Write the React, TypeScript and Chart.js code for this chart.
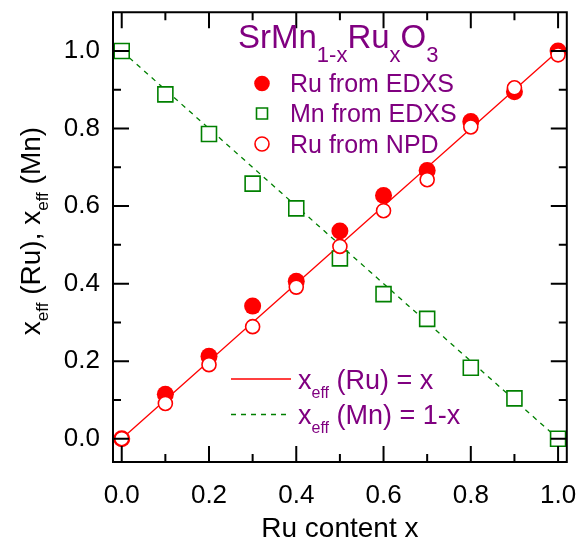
import React, { useEffect, useRef } from 'react';
import { Chart, registerables } from 'chart.js';

Chart.register(...registerables);

// ---------- data ----------
const xContent = [0, 0.1, 0.2, 0.3, 0.4, 0.5, 0.6, 0.7, 0.8, 0.9, 1.0];
const ruFromEdxs = [0.0, 0.115, 0.213, 0.342, 0.406, 0.536, 0.627, 0.692, 0.818, 0.895, 1.0];
const mnFromEdxs = [1.0, 0.888, 0.786, 0.658, 0.594, 0.465, 0.373, 0.309, 0.183, 0.104, 0.0];
const ruFromNpd = [0.0, 0.091, 0.191, 0.289, 0.391, 0.496, 0.588, 0.668, 0.804, 0.905, 0.99];

const lineX = [0, 1];
const ruLineY = [0, 1];
const mnLineY = [1, 0];

const xTickValues = [0, 0.2, 0.4, 0.6, 0.8, 1.0];
const xTickLabels = ['0.0', '0.2', '0.4', '0.6', '0.8', '1.0'];
const yTickValues = [0, 0.2, 0.4, 0.6, 0.8, 1.0];
const yTickLabels = ['0.0', '0.2', '0.4', '0.6', '0.8', '1.0'];
const minorTickValues = [0.1, 0.3, 0.5, 0.7, 0.9];

const seriesLabels = ['Ru from EDXS', 'Mn from EDXS', 'Ru from NPD'];
const xAxisTitle = 'Ru content x';

const RED = '#ff0000';
const GREEN = '#008000';
const PURPLE = '#800080';
const FONT = "'Liberation Sans', Arial, sans-serif";

type Part = { t: string; size: number; dy: number };

function measureParts(ctx: CanvasRenderingContext2D, parts: Part[]) {
  let w = 0;
  for (const p of parts) {
    ctx.font = `${p.size}px ${FONT}`;
    w += ctx.measureText(p.t).width;
  }
  return w;
}

function drawParts(ctx: CanvasRenderingContext2D, x: number, y: number, parts: Part[], color: string) {
  ctx.fillStyle = color;
  ctx.textAlign = 'left';
  ctx.textBaseline = 'alphabetic';
  let cx = x;
  for (const p of parts) {
    ctx.font = `${p.size}px ${FONT}`;
    ctx.fillText(p.t, cx, y + p.dy);
    cx += ctx.measureText(p.t).width;
  }
}

const decorPlugin = {
  id: 'decor',
  afterDraw(chart: any) {
    const ctx: CanvasRenderingContext2D = chart.ctx;
    const { left, right, top, bottom } = chart.chartArea;
    const xs = chart.scales.x;
    const ys = chart.scales.y;
    ctx.save();
    ctx.setLineDash([]);
    // frame
    ctx.strokeStyle = '#000';
    ctx.lineWidth = 2;
    ctx.beginPath();
    ctx.moveTo(left, top);
    ctx.lineTo(right, top);
    ctx.lineTo(right, bottom);
    ctx.lineTo(left, bottom);
    ctx.closePath();
    ctx.stroke();
    // inward ticks on all four sides
    const tickSet = [
      ...xTickValues.map((v) => ({ v, len: 16 })),
      ...minorTickValues.map((v) => ({ v, len: 8 })),
    ];
    ctx.beginPath();
    for (const t of tickSet) {
      const px = xs.getPixelForValue(t.v);
      ctx.moveTo(px, bottom);
      ctx.lineTo(px, bottom - t.len);
      ctx.moveTo(px, top);
      ctx.lineTo(px, top + t.len);
      const py = ys.getPixelForValue(t.v);
      ctx.moveTo(left, py);
      ctx.lineTo(left + t.len, py);
      ctx.moveTo(right, py);
      ctx.lineTo(right - t.len, py);
    }
    ctx.stroke();

    // compound title
    drawParts(
      ctx,
      238,
      48,
      [
        { t: 'SrMn', size: 33, dy: 0 },
        { t: '1-x', size: 22, dy: 14 },
        { t: 'Ru', size: 33, dy: 0 },
        { t: 'x', size: 22, dy: 14 },
        { t: 'O', size: 33, dy: 0 },
        { t: '3', size: 22, dy: 14 },
      ],
      PURPLE
    );

    // marker legend
    const mx = 262;
    const rows = [83.5, 113.5, 144];
    ctx.fillStyle = RED;
    ctx.beginPath();
    ctx.arc(mx, rows[0], 7.8, 0, Math.PI * 2);
    ctx.fill();
    ctx.strokeStyle = GREEN;
    ctx.lineWidth = 1.6;
    ctx.fillStyle = '#fff';
    ctx.beginPath();
    ctx.rect(mx - 5.5, rows[1] - 5.5, 11, 11);
    ctx.fill();
    ctx.stroke();
    ctx.strokeStyle = RED;
    ctx.lineWidth = 1.6;
    ctx.beginPath();
    ctx.arc(mx, rows[2], 7, 0, Math.PI * 2);
    ctx.fill();
    ctx.stroke();
    for (let i = 0; i < 3; i++) {
      drawParts(ctx, 290, rows[i] + 8.5, [{ t: seriesLabels[i], size: 25, dy: 0 }], PURPLE);
    }

    // line legend
    ctx.lineWidth = 1.3;
    ctx.strokeStyle = RED;
    ctx.beginPath();
    ctx.moveTo(231, 379);
    ctx.lineTo(291, 379);
    ctx.stroke();
    ctx.strokeStyle = GREEN;
    ctx.setLineDash([5, 5]);
    ctx.beginPath();
    ctx.moveTo(231, 414.5);
    ctx.lineTo(291, 414.5);
    ctx.stroke();
    ctx.setLineDash([]);
    drawParts(
      ctx,
      298,
      389,
      [
        { t: 'x', size: 27, dy: 0 },
        { t: 'eff', size: 16, dy: 9 },
        { t: ' (Ru) = x', size: 27, dy: 0 },
      ],
      PURPLE
    );
    drawParts(
      ctx,
      298,
      424,
      [
        { t: 'x', size: 27, dy: 0 },
        { t: 'eff', size: 16, dy: 9 },
        { t: ' (Mn) = 1-x', size: 27, dy: 0 },
      ],
      PURPLE
    );

    // axis titles
    ctx.fillStyle = '#000';
    ctx.font = `28px ${FONT}`;
    ctx.textAlign = 'center';
    ctx.textBaseline = 'alphabetic';
    ctx.fillText(xAxisTitle, (left + right) / 2, 537);

    const yParts: Part[] = [
      { t: 'x', size: 28, dy: 0 },
      { t: 'eff', size: 17, dy: 8 },
      { t: ' (Ru), x', size: 28, dy: 0 },
      { t: 'eff', size: 17, dy: 8 },
      { t: ' (Mn)', size: 28, dy: 0 },
    ];
    const w = measureParts(ctx, yParts);
    ctx.translate(40, 231);
    ctx.rotate(-Math.PI / 2);
    drawParts(ctx, -w / 2, 0, yParts, '#000');
    ctx.restore();
  },
};

export default function App() {
  const canvasRef = useRef<HTMLCanvasElement | null>(null);

  useEffect(() => {
    document.body.style.margin = '0';
    const canvas = canvasRef.current;
    if (!canvas) return;
    const pts = (ys: number[]) => xContent.map((x, i) => ({ x, y: ys[i] }));
    const linePts = (ys: number[]) => lineX.map((x, i) => ({ x, y: ys[i] }));

    const chart = new Chart(canvas, {
      type: 'scatter',
      data: {
        datasets: [
          {
            label: seriesLabels[2],
            data: pts(ruFromNpd),
            order: 0,
            pointStyle: 'circle',
            pointRadius: 7,
            pointBackgroundColor: '#fff',
            pointBorderColor: RED,
            pointBorderWidth: 1.6,
            showLine: false,
          },
          {
            label: seriesLabels[0],
            data: pts(ruFromEdxs),
            order: 1,
            pointStyle: 'circle',
            pointRadius: 8.5,
            pointBackgroundColor: RED,
            pointBorderColor: RED,
            pointBorderWidth: 0,
            showLine: false,
          },
          {
            label: seriesLabels[1],
            data: pts(mnFromEdxs),
            order: 2,
            pointStyle: 'rect',
            pointRadius: 10.6,
            pointBackgroundColor: '#fff',
            pointBorderColor: GREEN,
            pointBorderWidth: 1.6,
            showLine: false,
          },
          {
            label: 'x_eff (Ru) = x',
            data: linePts(ruLineY),
            order: 3,
            showLine: true,
            borderColor: RED,
            borderWidth: 1.3,
            pointRadius: 0,
          },
          {
            label: 'x_eff (Mn) = 1-x',
            data: linePts(mnLineY),
            order: 4,
            showLine: true,
            borderColor: GREEN,
            borderWidth: 1.3,
            borderDash: [5, 5],
            pointRadius: 0,
          },
        ],
      },
      options: {
        animation: false,
        responsive: false,
        devicePixelRatio: 1,
        layout: { padding: { top: 10, right: 12, left: 0, bottom: 0 } },
        plugins: {
          legend: { display: false },
          tooltip: { enabled: false },
        },
        scales: {
          x: {
            type: 'linear',
            min: -0.02,
            max: 1.02,
            grid: { display: false, drawTicks: false },
            border: { display: false },
            afterBuildTicks: (s: any) => {
              s.ticks = xTickValues.map((v) => ({ value: v }));
            },
            afterFit: (s: any) => {
              s.height = 78;
              s.paddingLeft = 0;
              s.paddingRight = 0;
            },
            ticks: {
              padding: 18,
              color: '#000',
              font: { family: FONT, size: 26 },
              maxRotation: 0,
              callback: (v: any) => {
                const i = xTickValues.findIndex((t) => Math.abs(t - v) < 1e-9);
                return i >= 0 ? xTickLabels[i] : '';
              },
            },
          },
          y: {
            type: 'linear',
            min: -0.06,
            max: 1.1,
            grid: { display: false, drawTicks: false },
            border: { display: false },
            afterBuildTicks: (s: any) => {
              s.ticks = yTickValues.map((v) => ({ value: v }));
            },
            afterFit: (s: any) => {
              s.width = 113;
              s.paddingTop = 0;
              s.paddingBottom = 0;
            },
            ticks: {
              padding: 13,
              color: '#000',
              font: { family: FONT, size: 26 },
              callback: (v: any) => {
                const i = yTickValues.findIndex((t) => Math.abs(t - v) < 1e-9);
                return i >= 0 ? yTickLabels[i] : '';
              },
            },
          },
        },
      },
      plugins: [decorPlugin],
    } as any);

    return () => {
      chart.destroy();
    };
  }, []);

  return (
    <div style={{ position: 'absolute', left: 0, top: 0, width: 579, height: 540, background: '#fff' }}>
      <canvas ref={canvasRef} width={579} height={540} />
    </div>
  );
}
